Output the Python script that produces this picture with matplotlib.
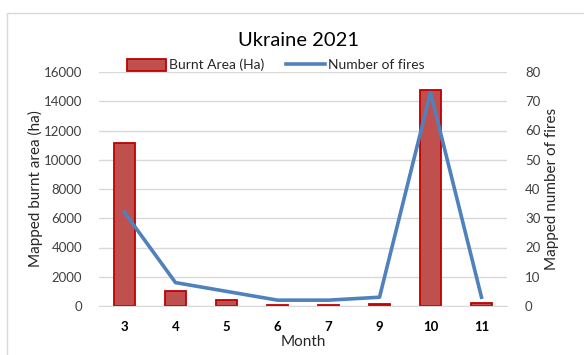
import matplotlib
matplotlib.use("Agg")
import matplotlib.pyplot as plt
from matplotlib.patches import Rectangle
from matplotlib.lines import Line2D

months = ["3", "4", "5", "6", "7", "9", "10", "11"]
burnt_area = [11150, 1050, 410, 50, 50, 150, 14800, 200]
num_fires = [32, 8, 5, 2, 2, 3, 73, 3]

plt.rcParams["font.family"] = ["Lato", "DejaVu Sans"]

fig = plt.figure(figsize=(5.84, 3.55), dpi=100)
fig.patch.set_facecolor("white")

# chart frame
fig.patches.append(Rectangle((7 / 584, -0.1), 1.2, 1 - 13 / 355 + 0.1,
                             transform=fig.transFigure, fill=False,
                             edgecolor="#D9D9D9", linewidth=1.0))

ax = fig.add_axes([99 / 584, 1 - 306 / 355, (507 - 99) / 584, (306 - 72) / 355])
x = list(range(len(months)))
ax.bar(x, burnt_area, width=0.41, color="#C0504D", edgecolor="#C00000",
       linewidth=1.3, zorder=2)
ax.set_xlim(-0.5, len(months) - 0.5)
ax.set_ylim(0, 16000)
ax.set_yticks(range(0, 16001, 2000))
ax.grid(axis="y", color="#D9D9D9", linewidth=1.0, zorder=0)
ax.set_axisbelow(True)
for s in ["top", "right", "left"]:
    ax.spines[s].set_visible(False)
ax.spines["bottom"].set_color("#D9D9D9")
ax.tick_params(axis="both", length=0, labelsize=9.5, colors="#404040")
ax.tick_params(axis="y", pad=12)
ax.set_xticks(x)
ax.set_xticklabels(months, fontweight="bold", color="black")
ax.tick_params(axis="x", pad=11)
ax.set_xlabel("Month", fontsize=11, color="#262626", labelpad=1)
ax.set_ylabel("Mapped burnt area (ha)", fontsize=11, color="#262626", labelpad=1)

ax2 = ax.twinx()
ax2.plot(x, num_fires, color="#4F81BD", linewidth=2.6, zorder=3,
         solid_joinstyle="round")
ax2.set_ylim(0, 80)
ax2.set_yticks(range(0, 81, 10))
for s in ["top", "right", "left", "bottom"]:
    ax2.spines[s].set_visible(False)
ax2.tick_params(axis="y", length=0, labelsize=9.5, colors="#404040", pad=13)
ax2.set_ylabel("Mapped number of fires", fontsize=11, color="#262626", labelpad=3)

fig.text(298 / 584, 1 - 40 / 355, "Ukraine 2021", ha="center", va="center",
         fontsize=14.5, color="black")

handles = [Rectangle((0, 0), 1, 1, facecolor="#C0504D", edgecolor="#C00000", linewidth=1.3),
           Line2D([0], [0], color="#4F81BD", linewidth=2.6)]
fig.legend(handles, ["Burnt Area (Ha)", "Number of fires"], ncol=2,
           loc="center", bbox_to_anchor=(276 / 584, 1 - 65 / 355),
           frameon=False, fontsize=10, handlelength=2.8, handleheight=1.0,
           handletextpad=0.2, columnspacing=1.6, labelcolor="#262626")

fig.savefig("out.png", dpi=100, facecolor="white")
